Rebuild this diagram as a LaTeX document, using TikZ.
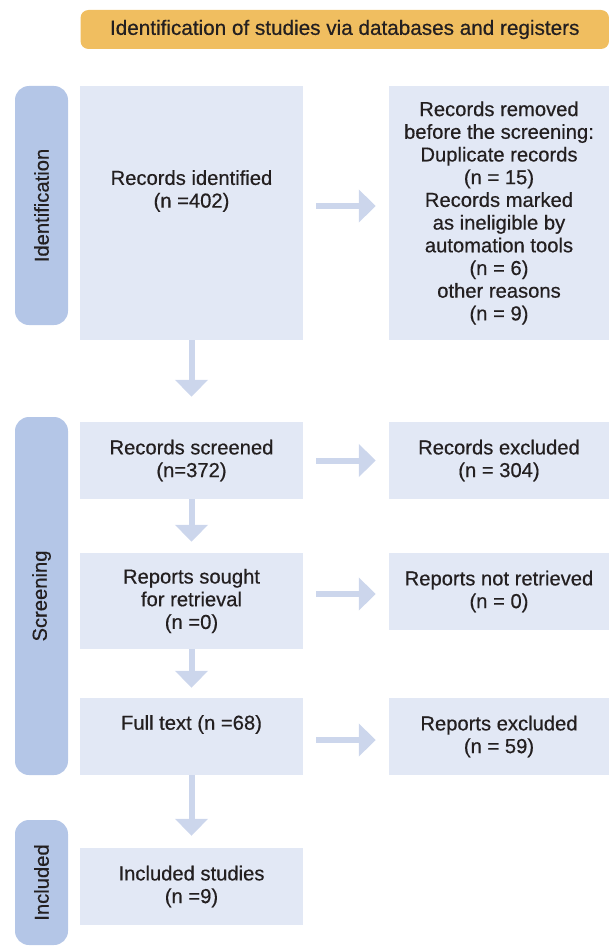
\documentclass[tikz,border=0pt]{standalone}
\usepackage{fontspec}
\setmainfont{Liberation Sans}[FakeBold=0.5]
\usetikzlibrary{arrows.meta}
\definecolor{bannerorange}{RGB}{240,190,96}
\definecolor{stageblue}{RGB}{180,198,231}
\definecolor{boxblue}{RGB}{226,232,245}
\definecolor{arrowblue}{RGB}{204,214,236}
\definecolor{inkdark}{RGB}{35,31,32}

\begin{document}
\begin{tikzpicture}[x=1pt, y=-1pt,
    every node/.style={text=inkdark, font=\fontsize{20.2}{22.7}\selectfont, align=center, inner sep=0pt},
    banner/.style={fill=bannerorange, rounded corners=8pt, minimum width=528.5pt, minimum height=39pt, font=\fontsize{20.7}{24}\selectfont},
    stage/.style={fill=stageblue, rounded corners=14pt, minimum height=53pt, rotate=90},
    box/.style={fill=boxblue},
    leftbox/.style={box, minimum width=223pt},
    rightbox/.style={box, minimum width=220pt},
    harr/.style={draw=arrowblue, line width=6pt, -{Triangle[length=17pt, width=32pt]}, shorten <=13pt, shorten >=13pt},
    varr/.style={draw=arrowblue, line width=6pt, -{Triangle[length=17pt, width=32pt]}}]
\useasboundingbox (0,0) rectangle (609,947);
% Title bar
\node[banner] (title) at (344.75,29.5) {Identification of studies via databases and registers};
% Stage labels
\node[stage, minimum width=239pt] (idstage) at (41.5,205.5) {Identification};
\node[stage, minimum width=358pt] (scrstage) at (41.5,596) {Screening};
\node[stage, minimum width=125pt] (incstage) at (41.5,882.5) {Included};
% Left column
\node[leftbox, minimum height=254pt] (ident) at (191.5,213) {};
\node (identtxt) at (191.5,191) {Records identified\\(n =402)};
\node[leftbox, minimum height=77pt] (screened) at (191.5,460.5) {Records screened\\(n=372)};
\node[leftbox, minimum height=96pt] (sought) at (191.5,601) {Reports sought\\for retrieval\\(n =0)};
\node[leftbox, minimum height=77pt] (fulltext) at (191.5,736.5) {};
\node (fulltexttxt) at (191.5,724.5) {Full text (n =68)};
\node[leftbox, minimum height=77pt] (included) at (191.5,886.5) {Included studies\\(n =9)};
% Right column
\node[rightbox, minimum height=254pt] (removed) at (499,213) {Records removed\\before the screening:\\Duplicate records\\(n = 15)\\Records marked\\as ineligible by\\automation tools\\(n = 6)\\other reasons\\(n = 9)};
\node[rightbox, minimum height=77pt] (excluded) at (499,460.5) {Records excluded\\(n = 304)};
\node[rightbox, minimum height=77pt] (notretr) at (499,591.5) {Reports not retrieved\\(n = 0)};
\node[rightbox, minimum height=77pt] (repexcl) at (499,736.5) {Reports excluded\\(n = 59)};
% Arrows down
\foreach \u/\v/\gap in {ident/screened/25, screened/sought/11, sought/fulltext/10, fulltext/included/12}
    \draw[varr, shorten >=\gap pt] (\u) -- (\v);
% Arrows right
\foreach \u/\v/\dy in {ident/removed/7, screened/excluded/0, sought/notretr/-2.5, fulltext/repexcl/-3.5}
    \draw[harr] ([yshift=\dy pt]\v.west -| \u.east) -- ([yshift=\dy pt]\v.west);
\end{tikzpicture}
\end{document}
